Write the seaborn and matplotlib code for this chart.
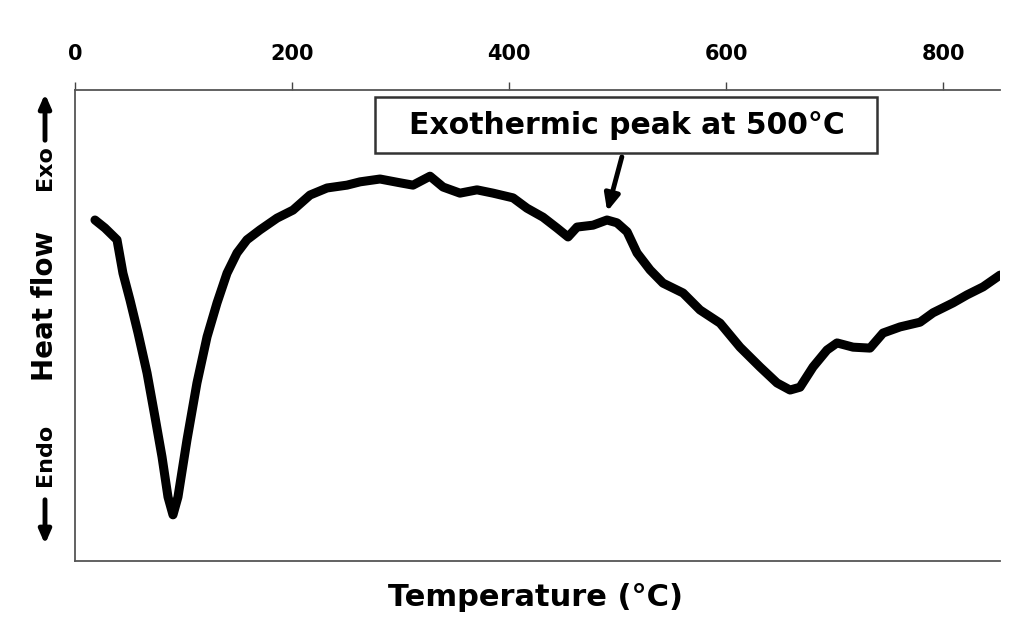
import matplotlib
matplotlib.use("Agg")
import matplotlib.pyplot as plt
import matplotlib.patches as mpatches
import seaborn as sns
import pandas as pd

temperature = [18.4, 27.6, 38.7, 44.2, 50.7, 58.1, 66.4, 73.7, 80.2, 85.7, 90.3, 94.9,
               103.2, 112.4, 121.7, 130.9, 140.1, 149.3, 158.5, 170.5, 186.2, 200.9,
               216.6, 232.3, 250.7, 262.7, 281.1, 299.5, 311.5, 327.2, 339.2, 354.8,
               370.5, 385.3, 403.7, 416.6, 431.3, 444.2, 454.4, 462.7, 477.4, 490.3,
               499.5, 508.8, 518.0, 530.0, 541.9, 560.4, 576.0, 594.5, 612.9, 631.3,
               647.0, 659.0, 668.2, 680.2, 693.1, 702.3, 717.1, 732.7, 744.7, 760.4,
               778.8, 790.8, 809.2, 822.1, 836.9, 852.5]
heat_flow = [72.4, 70.7, 68.2, 61.1, 55.4, 48.4, 39.9, 30.6, 22.1, 13.6, 9.8, 13.6,
             25.7, 37.8, 47.6, 54.8, 61.1, 65.4, 68.2, 70.3, 72.8, 74.5,
             77.7, 79.2, 79.8, 80.5, 81.1, 80.3, 79.8, 81.7, 79.4, 78.1,
             78.8, 78.1, 77.1, 74.9, 73.0, 70.7, 68.8, 70.9, 71.3, 72.4,
             71.8, 69.9, 65.4, 61.8, 59.0, 56.9, 53.3, 50.5, 45.4, 41.2,
             37.8, 36.3, 36.9, 41.2, 44.8, 46.3, 45.4, 45.2, 48.4, 49.7,
             50.7, 52.7, 54.8, 56.5, 58.2, 60.7]
x_ticks = [0, 200, 400, 600, 800]
annotation_text = "Exothermic peak at 500°C"

sns.set_style("white")
plt.rcParams['font.family'] = ['DejaVu Sans']
plt.rcParams['text.color'] = 'black'
plt.rcParams['xtick.color'] = '#444444'
plt.rcParams['xtick.labelcolor'] = 'black'

df = pd.DataFrame({"T": temperature, "HF": heat_flow})

W, H = 1024, 634
fig = plt.figure(figsize=(10.24, 6.34), dpi=100)
ax = fig.add_axes([75/W, 1 - 561/H, 925/W, (561 - 90)/H])

sns.lineplot(data=df, x="T", y="HF", ax=ax, color="black", linewidth=6.5,
             solid_capstyle="round", solid_joinstyle="round")

ax.set_xlim(0, 852.5)
ax.set_ylim(0, 100)
ax.xaxis.tick_top()
ax.set_xticks(x_ticks)
ax.set_xticklabels([str(t) for t in x_ticks], fontsize=15, fontweight="bold", color="black")
ax.tick_params(axis="x", direction="out", length=6, width=1, pad=13)
ax.set_yticks([])
ax.set_xlabel("")
ax.set_ylabel("")
for s in ["top", "left", "bottom"]:
    ax.spines[s].set_visible(True)
    ax.spines[s].set_color("#555555")
    ax.spines[s].set_linewidth(1.3)
ax.spines["right"].set_visible(False)

fig.text(535/W, 1 - 598/H, "Temperature (°C)", ha="center", va="center",
         fontsize=22, fontweight="bold", color="black")
fig.text(45/W, 1 - 306/H, "Heat flow", rotation=90, ha="center", va="center",
         fontsize=20, fontweight="bold", color="black")
fig.text(45/W, 1 - 168/H, "Exo", rotation=90, ha="center", va="center",
         fontsize=16, fontweight="bold", color="black")
fig.text(45/W, 1 - 455/H, "Endo", rotation=90, ha="center", va="center",
         fontsize=16, fontweight="bold", color="black")
ax.annotate("", xy=(45/W, 1 - 91/H), xytext=(45/W, 1 - 143/H),
            xycoords="figure fraction", textcoords="figure fraction",
            arrowprops=dict(arrowstyle="-|>,head_length=0.8,head_width=0.35", lw=3.5, color="black"))
ax.annotate("", xy=(45/W, 1 - 547/H), xytext=(45/W, 1 - 497/H),
            xycoords="figure fraction", textcoords="figure fraction",
            arrowprops=dict(arrowstyle="-|>,head_length=0.8,head_width=0.35", lw=3.5, color="black"))

box = mpatches.Rectangle((375/W, 1 - 153/H), (877 - 375)/W, (153 - 97)/H,
                         transform=fig.transFigure, facecolor="white",
                         edgecolor="#333333", linewidth=1.8, zorder=5)
fig.patches.append(box)
fig.text(627/W, 1 - 126/H, annotation_text, ha="center", va="center",
         fontsize=21.5, fontweight="bold", color="black", zorder=6)
ax.annotate("", xy=(490.5, 74.2), xytext=(504, 85.8),
            arrowprops=dict(arrowstyle="-|>,head_length=1.0,head_width=0.45", lw=3.5, color="black",
                            shrinkA=0, shrinkB=0))

fig.savefig("out.png", dpi=100)
